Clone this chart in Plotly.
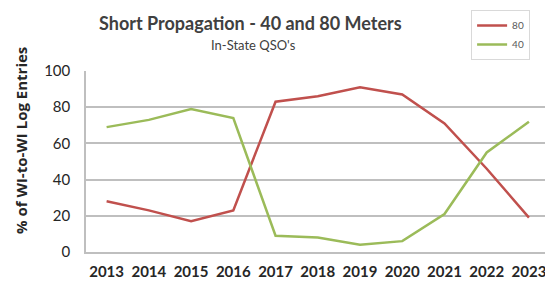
import plotly.graph_objects as go

years = ["2013", "2014", "2015", "2016", "2017", "2018", "2019", "2020", "2021", "2022", "2023"]
m80 = [28, 23, 17, 23, 83, 86, 91, 87, 71, 46, 19]
m40 = [69, 73, 79, 74, 9, 8, 4, 6, 21, 55, 72]
yticks = [0, 20, 40, 60, 80, 100]

fig = go.Figure()
fig.add_trace(go.Scatter(x=years, y=m80, mode="lines", name="80",
                         line=dict(color="#c0504d", width=2.5)))
fig.add_trace(go.Scatter(x=years, y=m40, mode="lines", name="40",
                         line=dict(color="#9bbb59", width=2.5)))

# pixel positions of text elements, converted to paper coords below
texts = [
    dict(text="<b>Short Propagation - 40 and 80 Meters</b>", px=250, py=23, angle=0,
         font=dict(size=18, color="#404040", family="Lato")),
    dict(text="In-State QSO's", px=253, py=45, angle=0,
         font=dict(size=13, color="#404040", family="Lato")),
    dict(text="<b>% of WI-to-WI Log Entries</b>", px=21, py=141, angle=-90,
         font=dict(size=15, color="#262626", family="Open Sans")),
]
annotations = []
for t in texts:
    annotations.append(dict(text=t["text"], x=(t["px"] - 86) / 459, y=(252 - t["py"]) / 181,
                            xref="paper", yref="paper", showarrow=False, textangle=t["angle"],
                            xanchor="center", yanchor="middle", font=t["font"]))

fig.update_layout(
    width=545, height=282,
    margin=dict(l=86, r=0, t=71, b=30, autoexpand=False),
    paper_bgcolor="white", plot_bgcolor="white",
    font=dict(family="Lato", color="#404040"),
    showlegend=True,
    legend=dict(x=0.839, y=1.337, xanchor="left", yanchor="top",
                bordercolor="#d9d9d9", borderwidth=1,
                font=dict(size=10, color="#595959"),
                itemwidth=30, tracegroupgap=0, bgcolor="white"),
    annotations=annotations,
)

fig.update_xaxes(type="category", range=[-0.488, 10.38], automargin=False,
                 showgrid=False, showline=True, linecolor="#bfbfbf", linewidth=1.5,
                 ticks="", ticklabelstandoff=5,
                 tickfont=dict(size=15, color="#262626", family="Lato"),
                 tickprefix="<b>", ticksuffix="</b>",
                 fixedrange=True)
fig.update_yaxes(range=[0, 100], tickvals=yticks, automargin=False,
                 showgrid=True, gridcolor="#bfbfbf", gridwidth=1.5,
                 showline=True, linecolor="#bfbfbf", linewidth=1.5,
                 zeroline=False, ticks="", ticklabelstandoff=11,
                 tickfont=dict(size=15, color="#262626", family="Lato"),
                 tickprefix="<b>", ticksuffix="</b>",
                 fixedrange=True)

fig.write_html("out.html", config={"displayModeBar": False},
               post_script="document.body.style.margin='0';document.body.style.padding='0';")
